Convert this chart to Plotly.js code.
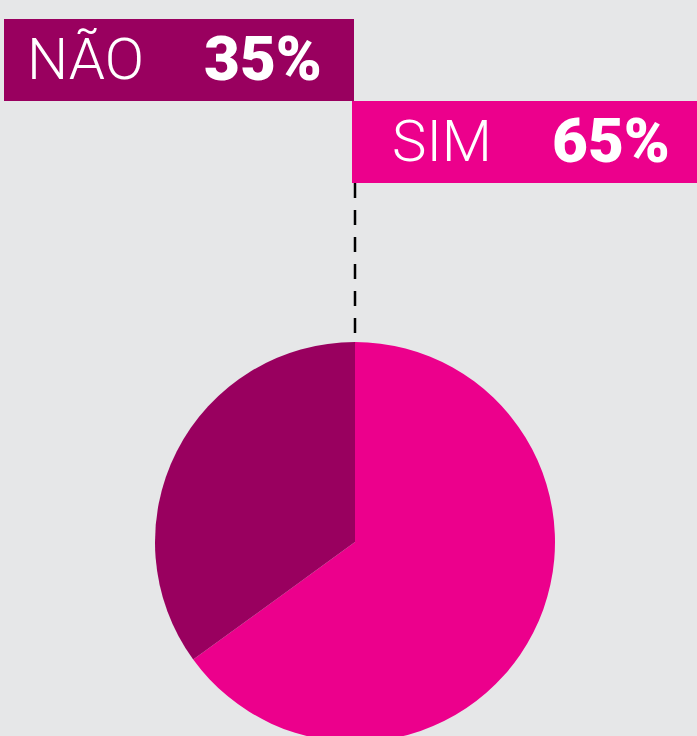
<!DOCTYPE html>
<html>
<head>
<meta charset="utf-8">
<script src="https://cdn.plot.ly/plotly-3.0.1.min.js"></script>
<style>
html,body{margin:0;padding:0;overflow:hidden;background:#e6e7e8;}
#chart{width:697px;height:760px;}
</style>
</head>
<body>
<div id="chart"></div>
<script>
const labels = ['SIM', 'NÃO'];
const values = [65, 35];
const colors = ['#ec008c', '#99005f'];

const W = 697, H = 760;
const px = x => x / W;
const py = y => (H - y) / H;

// label boxes: [x0, y0, x1, y1] in pixels, name left x, value right x
const boxes = [
  {x0: 352, y0: 101, x1: 697, y1: 183, nameX: 390, valX: 672},
  {x0: 4, y0: 19, x1: 354, y1: 101, nameX: 25, valX: 324}
];

const shapes = [];
const annotations = [];
labels.forEach((lab, i) => {
  const b = boxes[i];
  shapes.push({type: 'rect', xref: 'paper', yref: 'paper',
    x0: px(b.x0), x1: px(b.x1), y0: py(b.y1), y1: py(b.y0),
    fillcolor: colors[i], line: {width: 0}, layer: 'below'});
  const cy = py((b.y0 + b.y1) / 2 - 1);
  annotations.push({xref: 'paper', yref: 'paper', x: px(b.nameX), y: cy,
    xanchor: 'left', yanchor: 'middle', showarrow: false, text: lab,
    font: {family: 'Roboto', size: 58, weight: 300, color: '#ffffff'}});
  annotations.push({xref: 'paper', yref: 'paper', x: px(b.valX), y: cy,
    xanchor: 'right', yanchor: 'middle', showarrow: false, text: values[i] + '%',
    font: {family: 'Roboto', size: 62, weight: 900, color: '#ffffff'}});
});
shapes.push({type: 'line', xref: 'paper', yref: 'paper',
  x0: px(355), x1: px(355), y0: py(183), y1: py(342),
  line: {color: '#000000', width: 2.5, dash: '15px,12px'}});

const data = [{
  type: 'pie',
  labels: labels,
  values: values,
  sort: false,
  direction: 'clockwise',
  rotation: 0,
  textinfo: 'none',
  hoverinfo: 'none',
  marker: {colors: colors, line: {width: 0}},
  domain: {x: [px(155), px(555)], y: [py(742), py(342)]},
  showlegend: false
}];

const layout = {
  width: W, height: H,
  margin: {l: 0, r: 0, t: 0, b: 0},
  paper_bgcolor: '#e6e7e8',
  plot_bgcolor: '#e6e7e8',
  showlegend: false,
  shapes: shapes,
  annotations: annotations
};

Plotly.newPlot('chart', data, layout, {displayModeBar: false, staticPlot: true});
</script>
</body>
</html>
